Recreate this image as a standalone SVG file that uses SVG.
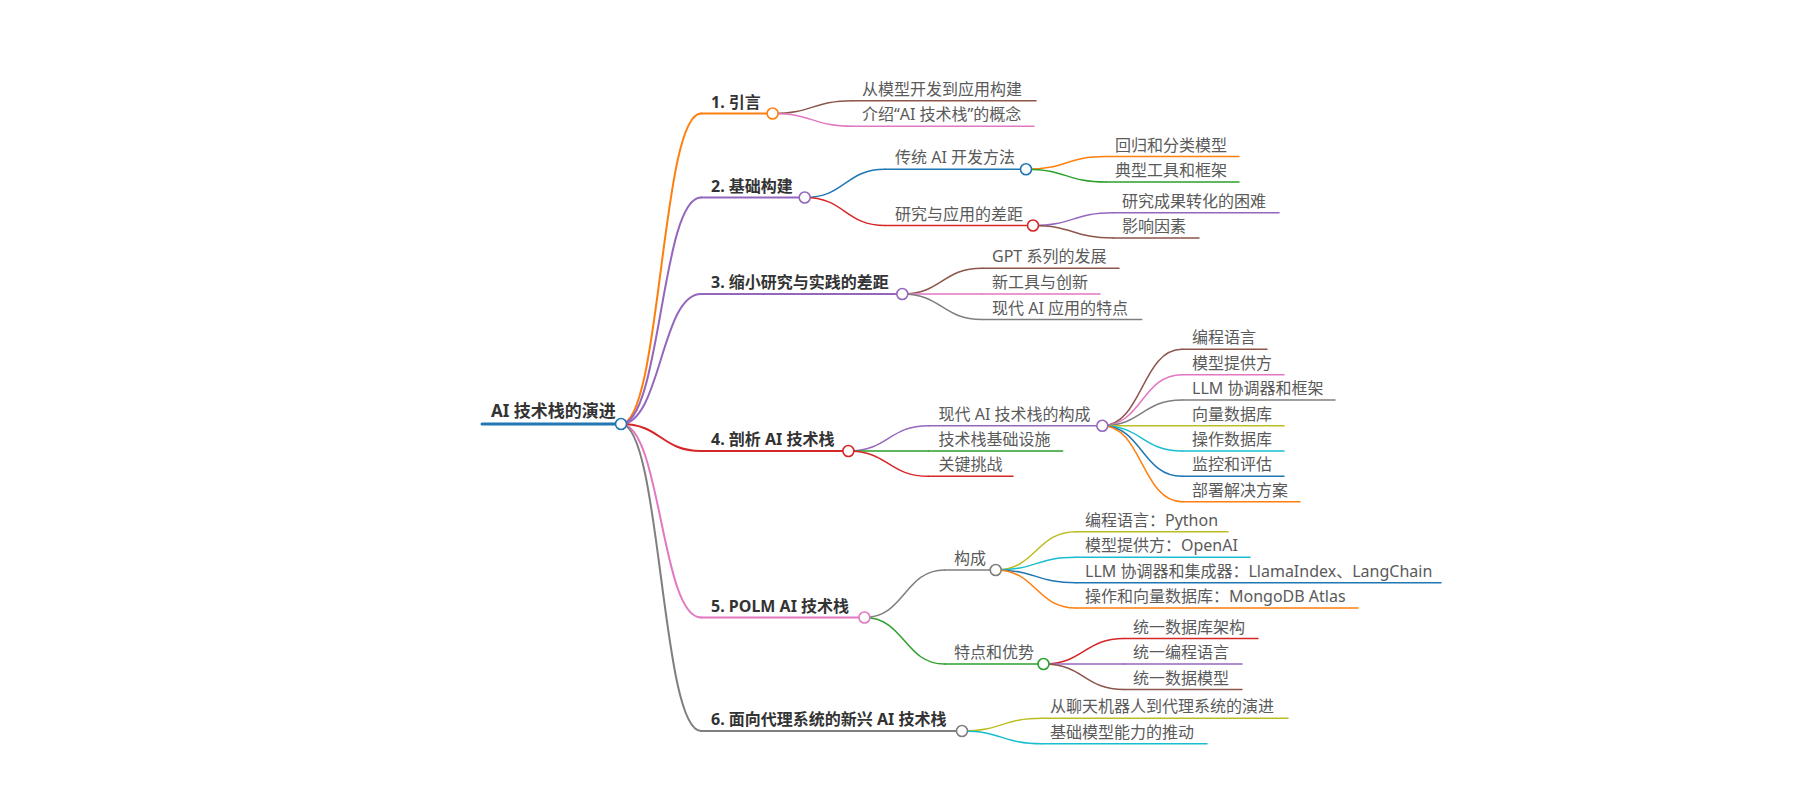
<svg xmlns="http://www.w3.org/2000/svg" width="1800" height="800" viewBox="0 0 1800 800">
<style>
text{font-family:"Noto Sans","Noto Sans CJK SC",sans-serif}
.t0{font-size:17px;font-weight:bold;fill:#333}
.t1{font-size:16px;font-weight:bold;fill:#333}
.t2{font-size:16px;fill:#5a5a5a}
path,line{fill:none;stroke-linecap:round}
.w1{stroke-width:2}
.w2{stroke-width:1.5}
circle{fill:#fff;stroke-width:1.6}
.cB{stroke:#1f77b4}.cO{stroke:#ff7f0e}.cG{stroke:#2ca02c}.cR{stroke:#d62728}.cP{stroke:#9467bd}
.cBr{stroke:#8c564b}.cPk{stroke:#e377c2}.cGy{stroke:#7f7f7f}.cOl{stroke:#bcbd22}.cC{stroke:#17becf}
</style>
<rect width="1800" height="800" fill="#fff"/>
<g id="connectors">
<path class="w1 cO" d="M621,424 C661,424 661,113.5 701,113.5"/>
<path class="w1 cP" d="M621,424 C661,424 661,197.5 701,197.5"/>
<path class="w1 cP" d="M621,424 C661,424 661,294 701,294"/>
<path class="w1 cR" d="M621,424 C661,424 661,451 701,451"/>
<path class="w1 cPk" d="M621,424 C661,424 661,617.5 701,617.5"/>
<path class="w1 cGy" d="M621,424 C661,424 661,731 701,731"/>
<path class="w2 cBr" d="M772.6,113.5 C812.6,113.5 812.6,100.8 852.6,100.8"/>
<path class="w2 cPk" d="M772.6,113.5 C812.6,113.5 812.6,126.2 852.6,126.2"/>
<path class="w2 cB" d="M804.7,197.5 C845,197.5 845,169.3 885,169.3"/>
<path class="w2 cR" d="M804.7,197.5 C845,197.5 845,225.5 885,225.5"/>
<path class="w2 cO" d="M1026,169.3 C1066,169.3 1066,156.6 1106,156.6"/>
<path class="w2 cG" d="M1026,169.3 C1066,169.3 1066,182 1106,182"/>
<path class="w2 cP" d="M1033,225.5 C1073,225.5 1073,212.7 1113,212.7"/>
<path class="w2 cBr" d="M1033,225.5 C1073,225.5 1073,238 1113,238"/>
<path class="w2 cBr" d="M902.3,294 C942,294 942,268.2 982,268.2"/>
<path class="w2 cPk" d="M902.3,294 C942,294 942,294 982,294"/>
<path class="w2 cGy" d="M902.3,294 C942,294 942,319.5 982,319.5"/>
<path class="w2 cP" d="M848.4,451 C888.5,451 888.5,425.7 928.5,425.7"/>
<path class="w2 cG" d="M848.4,451 C888.5,451 888.5,451 928.5,451"/>
<path class="w2 cR" d="M848.4,451 C888.5,451 888.5,476.3 928.5,476.3"/>
<path class="w2 cBr" d="M1102.3,425.7 C1142,425.7 1142,349.3 1182,349.3"/>
<path class="w2 cPk" d="M1102.3,425.7 C1142,425.7 1142,374.7 1182,374.7"/>
<path class="w2 cGy" d="M1102.3,425.7 C1142,425.7 1142,400 1182,400"/>
<path class="w2 cOl" d="M1102.3,425.7 C1142,425.7 1142,425.7 1182,425.7"/>
<path class="w2 cC" d="M1102.3,425.7 C1142,425.7 1142,451 1182,451"/>
<path class="w2 cB" d="M1102.3,425.7 C1142,425.7 1142,476.3 1182,476.3"/>
<path class="w2 cO" d="M1102.3,425.7 C1142,425.7 1142,501.7 1182,501.7"/>
<path class="w2 cGy" d="M864.4,617.5 C904.5,617.5 904.5,570 944.5,570"/>
<path class="w2 cG" d="M864.4,617.5 C904.5,617.5 904.5,664 944.5,664"/>
<path class="w2 cOl" d="M995.7,570 C1036,570 1036,531.7 1076,531.7"/>
<path class="w2 cC" d="M995.7,570 C1036,570 1036,557.3 1076,557.3"/>
<path class="w2 cB" d="M995.7,570 C1036,570 1036,582.7 1076,582.7"/>
<path class="w2 cO" d="M995.7,570 C1036,570 1036,608 1076,608"/>
<path class="w2 cR" d="M1043.5,664 C1084,664 1084,638.5 1124,638.5"/>
<path class="w2 cP" d="M1043.5,664 C1084,664 1084,664 1124,664"/>
<path class="w2 cBr" d="M1043.5,664 C1084,664 1084,689.5 1124,689.5"/>
<path class="w2 cOl" d="M962,731 C1002,731 1002,718.3 1042,718.3"/>
<path class="w2 cC" d="M962,731 C1002,731 1002,743.7 1042,743.7"/>
</g>

<g id="n0"><line class="cB" stroke-width="3" x1="482" y1="424" x2="621" y2="424"/><circle class="cB" cx="621" cy="424" r="5.5"/><text class="t0" x="491" y="417">AI 技术栈的演进</text></g>

<g id="n1"><line class="w1 cO" x1="701" y1="113.5" x2="772.6" y2="113.5"/><circle class="cO" cx="772.6" cy="113.5" r="5.5"/><text class="t1" x="711" y="107.5">1. 引言</text></g>
<g id="n1-1"><line class="w2 cBr" x1="852.6" y1="100.8" x2="1036" y2="100.8"/><text class="t2" x="862" y="94.8">从模型开发到应用构建</text></g>
<g id="n1-2"><line class="w2 cPk" x1="852.6" y1="126.2" x2="1034" y2="126.2"/><text class="t2" x="862" y="120.2">介绍“AI 技术栈”的概念</text></g>

<g id="n2"><line class="w1 cP" x1="701" y1="197.5" x2="804.7" y2="197.5"/><circle class="cP" cx="804.7" cy="197.5" r="5.5"/><text class="t1" x="711" y="191.5">2. 基础构建</text></g>
<g id="n2-1"><line class="w2 cB" x1="885" y1="169.3" x2="1026" y2="169.3"/><circle class="cB" cx="1026" cy="169.3" r="5.5"/><text class="t2" x="895" y="163.3">传统 AI 开发方法</text></g>
<g id="n2-1-1"><line class="w2 cO" x1="1106" y1="156.6" x2="1239" y2="156.6"/><text class="t2" x="1115" y="150.6">回归和分类模型</text></g>
<g id="n2-1-2"><line class="w2 cG" x1="1106" y1="182" x2="1239" y2="182"/><text class="t2" x="1115" y="176">典型工具和框架</text></g>
<g id="n2-2"><line class="w2 cR" x1="885" y1="225.5" x2="1033" y2="225.5"/><circle class="cR" cx="1033" cy="225.5" r="5.5"/><text class="t2" x="895" y="219.5">研究与应用的差距</text></g>
<g id="n2-2-1"><line class="w2 cP" x1="1113" y1="212.7" x2="1279" y2="212.7"/><text class="t2" x="1122" y="206.7">研究成果转化的困难</text></g>
<g id="n2-2-2"><line class="w2 cBr" x1="1113" y1="238" x2="1199" y2="238"/><text class="t2" x="1122" y="232">影响因素</text></g>

<g id="n3"><line class="w1 cP" x1="701" y1="294" x2="902.3" y2="294"/><circle class="cP" cx="902.3" cy="294" r="5.5"/><text class="t1" x="711" y="288">3. 缩小研究与实践的差距</text></g>
<g id="n3-1"><line class="w2 cBr" x1="982" y1="268.2" x2="1119" y2="268.2"/><text class="t2" x="992" y="262.2">GPT 系列的发展</text></g>
<g id="n3-2"><line class="w2 cPk" x1="982" y1="294" x2="1100" y2="294"/><text class="t2" x="992" y="288">新工具与创新</text></g>
<g id="n3-3"><line class="w2 cGy" x1="982" y1="319.5" x2="1141.7" y2="319.5"/><text class="t2" x="992" y="313.5">现代 AI 应用的特点</text></g>

<g id="n4"><line class="w1 cR" x1="701" y1="451" x2="848.4" y2="451"/><circle class="cR" cx="848.4" cy="451" r="5.5"/><text class="t1" x="711" y="445">4. 剖析 AI 技术栈</text></g>
<g id="n4-1"><line class="w2 cP" x1="928.5" y1="425.7" x2="1102.3" y2="425.7"/><circle class="cP" cx="1102.3" cy="425.7" r="5.5"/><text class="t2" x="938.5" y="419.7">现代 AI 技术栈的构成</text></g>
<g id="n4-1-1"><line class="w2 cBr" x1="1182" y1="349.3" x2="1267" y2="349.3"/><text class="t2" x="1192" y="343.3">编程语言</text></g>
<g id="n4-1-2"><line class="w2 cPk" x1="1182" y1="374.7" x2="1284" y2="374.7"/><text class="t2" x="1192" y="368.7">模型提供方</text></g>
<g id="n4-1-3"><line class="w2 cGy" x1="1182" y1="400" x2="1335" y2="400"/><text class="t2" x="1192" y="394">LLM 协调器和框架</text></g>
<g id="n4-1-4"><line class="w2 cOl" x1="1182" y1="425.7" x2="1284" y2="425.7"/><text class="t2" x="1192" y="419.7">向量数据库</text></g>
<g id="n4-1-5"><line class="w2 cC" x1="1182" y1="451" x2="1284" y2="451"/><text class="t2" x="1192" y="445">操作数据库</text></g>
<g id="n4-1-6"><line class="w2 cB" x1="1182" y1="476.3" x2="1284" y2="476.3"/><text class="t2" x="1192" y="470.3">监控和评估</text></g>
<g id="n4-1-7"><line class="w2 cO" x1="1182" y1="501.7" x2="1300" y2="501.7"/><text class="t2" x="1192" y="495.7">部署解决方案</text></g>
<g id="n4-2"><line class="w2 cG" x1="928.5" y1="451" x2="1062.7" y2="451"/><text class="t2" x="938.5" y="445">技术栈基础设施</text></g>
<g id="n4-3"><line class="w2 cR" x1="928.5" y1="476.3" x2="1013" y2="476.3"/><text class="t2" x="938.5" y="470.3">关键挑战</text></g>

<g id="n5"><line class="w1 cPk" x1="701" y1="617.5" x2="864.4" y2="617.5"/><circle class="cPk" cx="864.4" cy="617.5" r="5.5"/><text class="t1" x="711" y="611.5">5. POLM AI 技术栈</text></g>
<g id="n5-1"><line class="w2 cGy" x1="944.5" y1="570" x2="995.7" y2="570"/><circle class="cGy" cx="995.7" cy="570" r="5.5"/><text class="t2" x="954" y="564">构成</text></g>
<g id="n5-1-1"><line class="w2 cOl" x1="1076" y1="531.7" x2="1228" y2="531.7"/><text class="t2" x="1085" y="525.7">编程语言：Python</text></g>
<g id="n5-1-2"><line class="w2 cC" x1="1076" y1="557.3" x2="1250" y2="557.3"/><text class="t2" x="1085" y="551.3">模型提供方：OpenAI</text></g>
<g id="n5-1-3"><line class="w2 cB" x1="1076" y1="582.7" x2="1441" y2="582.7"/><text class="t2" x="1085" y="576.7">LLM 协调器和集成器：LlamaIndex、LangChain</text></g>
<g id="n5-1-4"><line class="w2 cO" x1="1076" y1="608" x2="1358" y2="608"/><text class="t2" x="1085" y="602">操作和向量数据库：MongoDB Atlas</text></g>
<g id="n5-2"><line class="w2 cG" x1="944.5" y1="664" x2="1043.5" y2="664"/><circle class="cG" cx="1043.5" cy="664" r="5.5"/><text class="t2" x="954" y="658">特点和优势</text></g>
<g id="n5-2-1"><line class="w2 cR" x1="1124" y1="638.5" x2="1258" y2="638.5"/><text class="t2" x="1133" y="632.5">统一数据库架构</text></g>
<g id="n5-2-2"><line class="w2 cP" x1="1124" y1="664" x2="1242" y2="664"/><text class="t2" x="1133" y="658">统一编程语言</text></g>
<g id="n5-2-3"><line class="w2 cBr" x1="1124" y1="689.5" x2="1242" y2="689.5"/><text class="t2" x="1133" y="683.5">统一数据模型</text></g>

<g id="n6"><line class="w1 cGy" x1="701" y1="731" x2="962" y2="731"/><circle class="cGy" cx="962" cy="731" r="5.5"/><text class="t1" x="711" y="725">6. 面向代理系统的新兴 AI 技术栈</text></g>
<g id="n6-1"><line class="w2 cOl" x1="1042" y1="718.3" x2="1288" y2="718.3"/><text class="t2" x="1050" y="712.3">从聊天机器人到代理系统的演进</text></g>
<g id="n6-2"><line class="w2 cC" x1="1042" y1="743.7" x2="1207" y2="743.7"/><text class="t2" x="1050" y="737.7">基础模型能力的推动</text></g>
</svg>
